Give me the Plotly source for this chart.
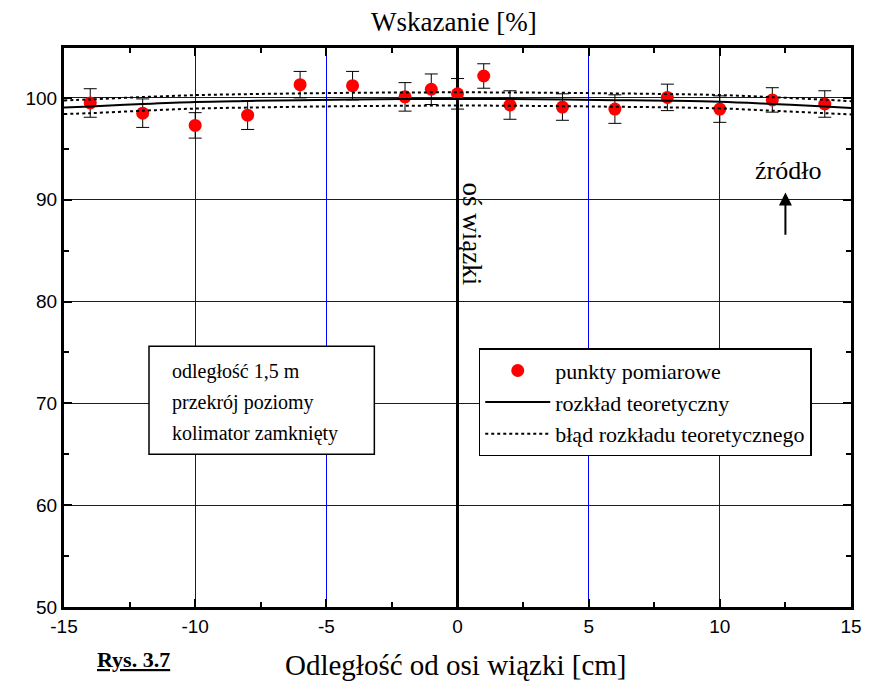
import plotly.graph_objects as go

# Measured readings across the beam (distance in cm, reading in %)
dist_cm = [-14, -12, -10, -8, -6, -4, -2, -1, 0, 1, 2, 4, 6, 8, 10, 12, 14]
reading = [99.5, 98.5, 97.3, 98.3, 101.3, 101.2, 100.1, 100.85, 100.4,
           102.15, 99.3, 99.1, 98.9, 100.05, 98.9, 99.8, 99.4]
reading_err = [1.4, 1.4, 1.25, 1.4, 1.3, 1.4, 1.4, 1.5, 1.5,
               1.2, 1.4, 1.3, 1.4, 1.3, 1.3, 1.2, 1.3]

# Theoretical distribution and its uncertainty band
theory_x = [-15, -14, -12, -10, -8, -6, -4, -2, 0, 2, 4, 6, 8, 10, 12, 14, 15]
theory_y = [99.05, 99.15, 99.4, 99.6, 99.7, 99.78, 99.84, 99.88, 99.9,
            99.88, 99.84, 99.78, 99.72, 99.62, 99.4, 99.15, 99.0]
theory_hi = [99.75, 99.85, 100.08, 100.27, 100.37, 100.44, 100.5, 100.53, 100.55,
             100.53, 100.5, 100.44, 100.38, 100.28, 100.07, 99.82, 99.68]
theory_lo = [98.42, 98.5, 98.74, 98.95, 99.05, 99.13, 99.19, 99.23, 99.25,
             99.23, 99.19, 99.13, 99.07, 98.97, 98.74, 98.5, 98.38]

x_ticks = [-15, -10, -5, 0, 5, 10, 15]
y_ticks = [50, 60, 70, 80, 90, 100]

SERIF = "Liberation Serif"
SANS = "Liberation Sans"

fig = go.Figure()

fig.add_trace(go.Scatter(
    x=dist_cm, y=reading, mode="markers", name="punkty pomiarowe",
    marker=dict(color="#ff0000", size=13, line=dict(width=0)),
    error_y=dict(type="data", array=reading_err, color="black",
                 thickness=1, width=6.5),
    legendgroup="a",
))
fig.add_trace(go.Scatter(
    x=theory_x, y=theory_y, mode="lines", name="rozkład teoretyczny",
    line=dict(color="black", width=2, shape="spline"),
    legendgroup="b",
))
fig.add_trace(go.Scatter(
    x=theory_x, y=theory_hi, mode="lines", name="błąd rozkładu teoretycznego",
    line=dict(color="black", width=2, dash="dot", shape="spline"),
    legendgroup="c",
))
fig.add_trace(go.Scatter(
    x=theory_x, y=theory_lo, mode="lines", showlegend=False,
    line=dict(color="black", width=2, dash="dot", shape="spline"),
    legendgroup="c",
))

axis_common = dict(
    showline=True, linecolor="black", linewidth=3, mirror="allticks",
    ticks="inside", ticklen=8, tickwidth=2, tickcolor="black",
    showgrid=True, gridcolor="#0000ff", gridwidth=1,
    tickfont=dict(family=SANS, size=19, color="black"),
)

fig.update_xaxes(
    range=[-15, 15], tickvals=x_ticks, ticktext=[str(v) for v in x_ticks],
    zeroline=True, zerolinecolor="black", zerolinewidth=3,
    minor=dict(ticks="inside", ticklen=5, tickwidth=2, tickcolor="black",
               dtick=2.5, showgrid=False),
    **axis_common,
)
fig.update_yaxes(
    range=[50, 104.9], tickvals=y_ticks, ticktext=[str(v) for v in y_ticks],
    zeroline=False,
    minor=dict(ticks="inside", ticklen=5, tickwidth=2, tickcolor="black",
               dtick=5, showgrid=False),
    **axis_common,
)

annotations = [
    dict(text="Wskazanie [%]", xref="paper", yref="paper", x=0.495, y=1.0,
         yshift=26, showarrow=False, yanchor="middle",
         font=dict(family=SERIF, size=27, color="black")),
    dict(text="Odległość od osi wiązki [cm]", xref="paper", yref="paper",
         x=0.497, y=0, yshift=-58, showarrow=False, yanchor="middle",
         font=dict(family=SERIF, size=29, color="black")),
    dict(text="<b><u>Rys. 3.7</u></b>", xref="paper", yref="paper",
         x=0.04, y=0, yshift=-52, xanchor="left", showarrow=False,
         yanchor="middle", font=dict(family=SERIF, size=22, color="black")),
    dict(text="oś wiązki", x=0.55, y=86.6, textangle=90, showarrow=False,
         font=dict(family=SERIF, size=27, color="black")),
    dict(text="źródło", x=12.6, y=92.9, showarrow=False,
         font=dict(family=SERIF, size=26, color="black")),
    dict(text="", x=12.5, y=90.7, ax=12.5, ay=86.4, axref="x", ayref="y",
         showarrow=True, arrowhead=2, arrowsize=1.3, arrowwidth=2,
         arrowcolor="black"),
]
for i, line in enumerate(["odległość 1,5 m", "przekrój poziomy",
                          "kolimator zamknięty"]):
    annotations.append(dict(
        text=line, x=-10.97, y=73.14 - 3.07 * i, xanchor="left",
        showarrow=False, font=dict(family=SERIF, size=20, color="black")))

fig.update_layout(
    width=874, height=686,
    margin=dict(l=64, r=16, t=48, b=79),
    paper_bgcolor="white", plot_bgcolor="white",
    showlegend=True,
    legend=dict(
        x=0.527, y=0.463, xanchor="left", yanchor="top",
        bgcolor="white", bordercolor="black", borderwidth=1.5,
        font=dict(family=SERIF, size=22, color="black"),
        traceorder="grouped", tracegroupgap=0, itemwidth=65,
    ),
    shapes=[dict(type="rect", x0=-11.76, x1=-3.17, y0=65.0, y1=75.6,
                 line=dict(color="black", width=1.5), fillcolor="white",
                 layer="above")],
    annotations=annotations,
)

fig.write_html("out.html")
